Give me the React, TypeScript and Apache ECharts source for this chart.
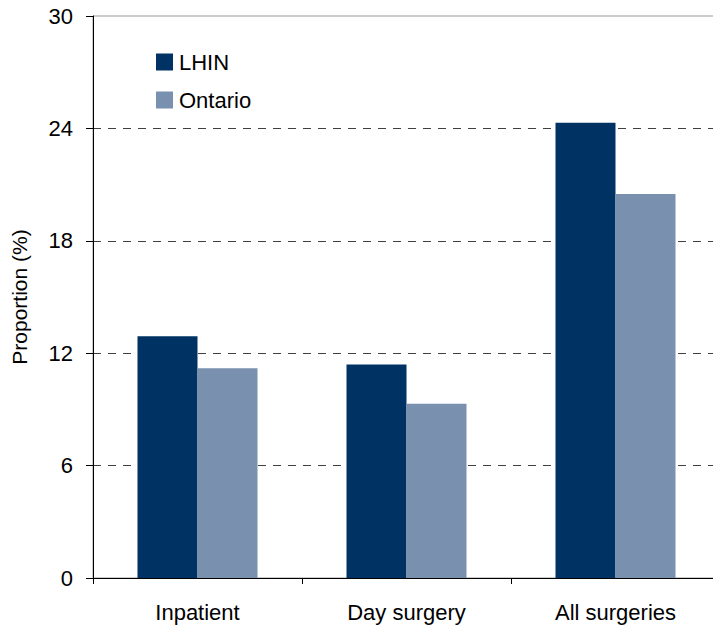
import React, { useEffect, useRef } from "react";
import * as echarts from "echarts";

const categories = ["Inpatient", "Day surgery", "All surgeries"];
const lhinValues = [12.9, 11.4, 24.3];
const ontarioValues = [11.2, 9.3, 20.5];
const seriesNames = ["LHIN", "Ontario"];
const yTicks = { min: 0, max: 30, interval: 6 };

const FONT = "'Liberation Sans', Arial, sans-serif";

export default function App() {
  const ref = useRef<HTMLDivElement>(null);
  useEffect(() => {
    document.body.style.margin = "0";
    const chart = echarts.init(ref.current!, null, { renderer: "svg" });
    chart.setOption({
      animation: false,
      backgroundColor: "#ffffff",
      textStyle: { fontFamily: FONT },
      grid: {
        left: 93,
        top: 16,
        right: -7,
        bottom: 50,
        show: true,
        borderColor: "#999999",
        borderWidth: 1,
        containLabel: false,
        outerBoundsMode: "none",
      },
      legend: {
        orient: "vertical",
        left: 151,
        top: 46,
        itemWidth: 17,
        itemHeight: 17,
        itemGap: 16,
        icon: "rect",
        textStyle: { fontSize: 22, color: "#000", fontFamily: FONT, padding: [0, 0, 0, 1] },
        data: seriesNames,
      },
      xAxis: {
        type: "category",
        data: categories,
        axisLine: { lineStyle: { color: "#000", width: 1 } },
        axisTick: { show: true, alignWithLabel: false, length: 6, lineStyle: { color: "#000" } },
        axisLabel: { fontSize: 22, color: "#000", margin: 23, fontFamily: FONT },
      },
      yAxis: {
        type: "value",
        min: yTicks.min,
        max: yTicks.max,
        interval: yTicks.interval,
        name: "Proportion (%)",
        nameLocation: "middle",
        nameGap: 63,
        nameRotate: 90,
        nameTextStyle: { fontSize: 21, color: "#000", fontFamily: FONT },
        axisLine: { show: true, lineStyle: { color: "#000", width: 1 } },
        axisTick: { show: true, length: 7, lineStyle: { color: "#000" } },
        axisLabel: { fontSize: 22, color: "#000", margin: 20, fontFamily: FONT },
        splitLine: {
          show: true,
          showMaxLine: false,
          showMinLine: false,
          lineStyle: { color: "#404040", type: [8, 7], width: 1 },
        },
      },
      series: [
        {
          name: seriesNames[0],
          type: "bar",
          data: lhinValues,
          barWidth: 60,
          barGap: "0%",
          itemStyle: { color: "#003264" },
        },
        {
          name: seriesNames[1],
          type: "bar",
          data: ontarioValues,
          barWidth: 60,
          barGap: "0%",
          itemStyle: { color: "#7990AE" },
        },
      ],
    });
    return () => chart.dispose();
  }, []);
  return <div ref={ref} style={{ width: 713, height: 628 }} />;
}
